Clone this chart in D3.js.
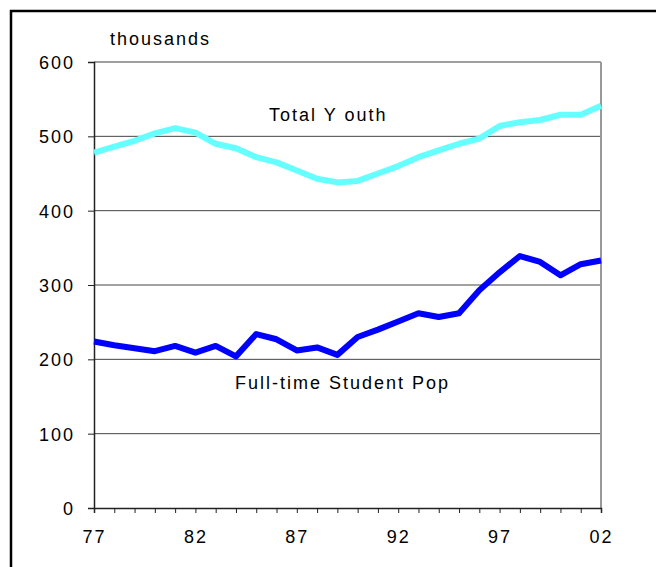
<!DOCTYPE html>
<html>

<head>
    <title>Total Youth vs Full-time Student Pop</title>
</head>

<body>
    <style>
        html,
        body {
            background-color: #FFFFFF;
            margin: 0;
            padding: 0;
            width: 656px;
            height: 567px;
            overflow: hidden;
            font-family: 'Liberation Sans', Arial, sans-serif;
        }

        #chart {
            width: 656px;
            height: 567px;
        }

        .label {
            font-size: 18px;
            letter-spacing: 2px;
            fill: #000000;
        }
    </style>
    <div id="chart"></div>

    <script src="https://cdnjs.cloudflare.com/ajax/libs/d3/7.6.1/d3.min.js"></script>

    <script>
        const years = [1977, 1978, 1979, 1980, 1981, 1982, 1983, 1984, 1985, 1986, 1987, 1988, 1989,
            1990, 1991, 1992, 1993, 1994, 1995, 1996, 1997, 1998, 1999, 2000, 2001, 2002];

        const totalYouth = [478, 486, 494, 504, 511, 505, 490, 484, 472, 465, 454, 443, 438,
            440, 450, 460, 472, 481, 490, 497, 514, 519, 522, 529, 529, 541];

        const studentPop = [224, 219, 215, 211, 218, 209, 218, 204, 234, 227, 212, 216, 206,
            230, 240, 251, 262, 257, 262, 293, 317, 339, 331, 313, 328, 333];

        const xTickYears = [1977, 1982, 1987, 1992, 1997, 2002];
        const yTicks = [0, 100, 200, 300, 400, 500, 600];

        const width = 656;
        const height = 567;
        const margin = { left: 94, right: 55, top: 62, bottom: 59 };

        const svg = d3.select("#chart")
            .append("svg")
            .attr("width", width)
            .attr("height", height);

        // outer frame (only top and left edge fall inside the picture)
        svg.append("rect")
            .attr("x", 11)
            .attr("y", 11)
            .attr("width", 800)
            .attr("height", 800)
            .attr("fill", "none")
            .attr("stroke", "#000")
            .attr("stroke-width", 2.5);

        const xScale = d3.scaleLinear()
            .domain([1977, 2002])
            .range([margin.left, width - margin.right]);

        const yScale = d3.scaleLinear()
            .domain([0, 600])
            .range([height - margin.bottom, margin.top]);

        // gridlines
        svg.append("g")
            .selectAll("line")
            .data(yTicks.filter(d => d > 0))
            .enter()
            .append("line")
            .attr("x1", margin.left)
            .attr("x2", width - margin.right)
            .attr("y1", d => yScale(d))
            .attr("y2", d => yScale(d))
            .attr("stroke", d => d === 600 ? "#808080" : "#444")
            .attr("stroke-width", d => d === 600 ? 1.5 : 1);

        // right edge of plot area
        svg.append("line")
            .attr("x1", width - margin.right)
            .attr("x2", width - margin.right)
            .attr("y1", yScale(600))
            .attr("y2", yScale(0))
            .attr("stroke", "#999")
            .attr("stroke-width", 2);

        const yAxis = d3.axisLeft(yScale)
            .tickValues(yTicks)
            .tickSize(6)
            .tickPadding(13)
            .tickFormat(d => d);

        const yAxisG = svg.append("g")
            .attr("transform", "translate(" + margin.left + ",0)")
            .call(yAxis);

        const xAxis = d3.axisBottom(xScale)
            .tickValues(years)
            .tickSize(5)
            .tickPadding(17)
            .tickFormat(d => xTickYears.includes(d) ? String(d).slice(2) : "");

        const xAxisG = svg.append("g")
            .attr("transform", "translate(0," + (height - margin.bottom) + ")")
            .call(xAxis);

        [yAxisG, xAxisG].forEach(g => {
            g.select(".domain").attr("stroke", "#222").attr("stroke-width", 1.5);
            g.selectAll(".tick line").attr("stroke", "#222");
            g.selectAll("text")
                .attr("class", "label")
                .attr("font-family", null)
                .style("font-size", "18px");
        });
        yAxisG.selectAll("text").attr("dy", "0.36em");

        const line = d3.line()
            .x((d, i) => xScale(years[i]))
            .y(d => yScale(d));

        svg.append("path")
            .datum(totalYouth)
            .attr("fill", "none")
            .attr("stroke", "#66FFFF")
            .attr("stroke-width", 6)
            .attr("stroke-linejoin", "round")
            .attr("d", line);

        svg.append("path")
            .datum(studentPop)
            .attr("fill", "none")
            .attr("stroke", "#0000FF")
            .attr("stroke-width", 6)
            .attr("stroke-linejoin", "round")
            .attr("d", line);

        svg.append("text")
            .attr("class", "label")
            .attr("x", 110)
            .attr("y", 45)
            .text("thousands");

        svg.append("text")
            .attr("class", "label")
            .attr("x", 269)
            .attr("y", 121)
            .text("Total Y outh");

        svg.append("text")
            .attr("class", "label")
            .attr("x", 235)
            .attr("y", 389)
            .text("Full-time Student Pop");
    </script>
</body>

</html>
